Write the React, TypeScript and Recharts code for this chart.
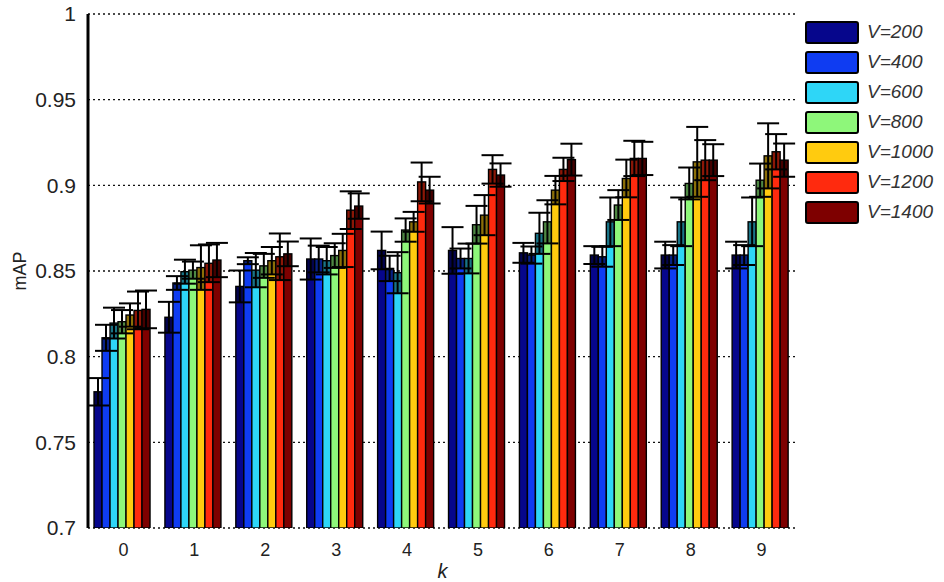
import React from "react";
import { BarChart, Bar, XAxis, YAxis, CartesianGrid, ErrorBar } from "recharts";

// k = 0..9 on the x axis
const kValues = ["0", "1", "2", "3", "4", "5", "6", "7", "8", "9"];

const seriesNames = ["V=200", "V=400", "V=600", "V=800", "V=1000", "V=1200", "V=1400"];
const seriesColors = ["#06068c", "#0f3cf2", "#2ed6f7", "#8ef77a", "#ffcb0f", "#ff2a0e", "#7e0000"];

// mean mAP per vocabulary size
const map200 = [0.7795, 0.823, 0.841, 0.857, 0.862, 0.862, 0.8606, 0.8593, 0.8593, 0.8593];
const map400 = [0.811, 0.843, 0.856, 0.857, 0.8515, 0.8573, 0.8593, 0.8583, 0.8593, 0.8593];
const map600 = [0.8196, 0.8496, 0.8505, 0.856, 0.849, 0.8573, 0.872, 0.8787, 0.8787, 0.8787];
const map800 = [0.8204, 0.8505, 0.853, 0.859, 0.8739, 0.877, 0.8787, 0.8885, 0.9011, 0.903];
const map1000 = [0.8243, 0.852, 0.856, 0.862, 0.8787, 0.8826, 0.8972, 0.904, 0.9137, 0.9172];
const map1200 = [0.827, 0.8545, 0.8583, 0.8855, 0.902, 0.9093, 0.9093, 0.9157, 0.9147, 0.9196];
const map1400 = [0.8276, 0.8564, 0.86, 0.8879, 0.8972, 0.906, 0.915, 0.9157, 0.9147, 0.9147];

// standard deviation per vocabulary size
const err200 = [0.008, 0.009, 0.0093, 0.012, 0.011, 0.0136, 0.0058, 0.0052, 0.0078, 0.0078];
const err400 = [0.0076, 0.004, 0.002, 0.0078, 0.0074, 0.0058, 0.005, 0.0058, 0.0058, 0.0058];
const err600 = [0.009, 0.007, 0.01, 0.008, 0.012, 0.0087, 0.012, 0.0142, 0.0142, 0.0142];
const err800 = [0.0068, 0.005, 0.007, 0.0072, 0.0068, 0.011, 0.0126, 0.0087, 0.0093, 0.0097];
const err1000 = [0.0068, 0.013, 0.008, 0.0097, 0.0058, 0.0117, 0.0083, 0.011, 0.0204, 0.019];
const err1200 = [0.011, 0.011, 0.0136, 0.011, 0.0113, 0.0083, 0.0068, 0.0103, 0.0117, 0.0103];
const err1400 = [0.011, 0.01, 0.0072, 0.0074, 0.0078, 0.0068, 0.0093, 0.0097, 0.0093, 0.0097];

const yTicks = [0.7, 0.75, 0.8, 0.85, 0.9, 0.95, 1];
const Y_MIN = 0.7;

const means = [map200, map400, map600, map800, map1000, map1200, map1400];
const errs = [err200, err400, err600, err800, err1000, err1200, err1400];

const data = kValues.map((k, i) => {
  const row: Record<string, any> = { k };
  means.forEach((m, s) => {
    row[`m${s}`] = m[i];
    row[`e${s}`] = errs[s][i];
  });
  return row;
});

const FONT = "'Liberation Sans', Arial, sans-serif";

// bar with the lower half of the error range shaded darker
function ShadedBar(props: any) {
  const { x, y, width, height, fill, payload, s } = props;
  if (!height || height <= 0) return null;
  const mean = payload[`m${s}`];
  const err = payload[`e${s}`];
  const pxPerUnit = height / (mean - Y_MIN);
  const errPx = Math.min(err * pxPerUnit, height);
  return (
    <g>
      <rect x={x} y={y} width={width} height={height} fill={fill} />
      <rect x={x} y={y} width={width} height={errPx} fill="#000" fillOpacity={0.45} />
      <rect x={x} y={y} width={width} height={height} fill="none" stroke="#000" strokeWidth={1.4} />
    </g>
  );
}

function LegendBox() {
  return (
    <div style={{ position: "absolute", left: 805, top: 17, fontFamily: FONT }}>
      {seriesNames.map((name, s) => (
        <div key={name} style={{ display: "flex", alignItems: "center", height: 30 }}>
          <div
            style={{
              width: 50,
              height: 19,
              background: seriesColors[s],
              border: "2.5px solid #000",
              borderRadius: 3,
            }}
          />
          <span style={{ marginLeft: 8, fontSize: 19, fontStyle: "italic", color: "#333" }}>{name}</span>
        </div>
      ))}
    </div>
  );
}

export default function App() {
  return (
    <div style={{ position: "absolute", left: 0, top: 0, width: 944, height: 582, background: "#fff" }}>
      <BarChart
        width={944}
        height={582}
        data={data}
        margin={{ top: 14, right: 147, bottom: 0, left: 0 }}
        barCategoryGap="8.5%"
        barGap={0}
      >
        <CartesianGrid
          horizontal
          vertical={false}
          stroke="#111"
          strokeDasharray="2 3"
          strokeWidth={1.3}
        />
        <XAxis
          dataKey="k"
          height={54}
          axisLine={false}
          tickLine={false}
          tickMargin={9}
          tick={{ fontSize: 18, fill: "#222", fontFamily: FONT }}
          label={{
            value: "k",
            position: "insideBottom",
            offset: 4,
            style: { fontSize: 20, fontStyle: "italic", fill: "#222", fontFamily: FONT },
          }}
        />
        <YAxis
          width={88}
          domain={[0.7, 1]}
          ticks={yTicks}
          allowDataOverflow
          interval={0}
          axisLine={{ stroke: "#000", strokeWidth: 3 }}
          tickLine={false}
          tickMargin={6}
          tickFormatter={(v: number) => String(+v.toFixed(2))}
          tick={{ fontSize: 21, fill: "#222", fontFamily: FONT }}
          label={{
            value: "mAP",
            angle: -90,
            position: "insideLeft",
            offset: 20,
            style: { fontSize: 18, fill: "#222", fontFamily: FONT, textAnchor: "middle" },
          }}
        />
        {seriesNames.map((name, s) => (
          <Bar
            key={name}
            name={name}
            dataKey={`m${s}`}
            fill={seriesColors[s]}
            isAnimationActive={false}
            shape={(p: any) => <ShadedBar {...p} s={s} />}
          >
            <ErrorBar dataKey={`e${s}`} width={11} stroke="#000" strokeWidth={2} direction="y" />
          </Bar>
        ))}
      </BarChart>
      <LegendBox />
    </div>
  );
}
